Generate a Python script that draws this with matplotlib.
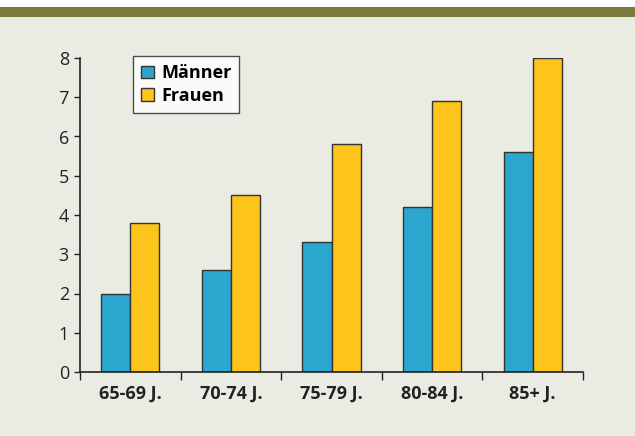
import numpy as np
import matplotlib
matplotlib.use("Agg")
import matplotlib.pyplot as plt
from matplotlib.patches import Rectangle

# Daten
categories = ["65-69 J.", "70-74 J.", "75-79 J.", "80-84 J.", "85+ J."]
maenner = [2.0, 2.6, 3.3, 4.2, 5.6]
frauen = [3.8, 4.5, 5.8, 6.9, 8.0]

BG = "#EAEBE3"
GREEN = "#7A7C3C"
BLUE = "#2BA6CE"
YELLOW = "#FDC41C"
EDGE = "#333333"

plt.rcParams["font.family"] = ["Open Sans", "DejaVu Sans"]

fig = plt.figure(figsize=(6.35, 4.36), dpi=100)
fig.patch.set_facecolor(BG)

# weisser Rand oben und gruener Balken
fig.patches.append(Rectangle((0, 1 - 7 / 436), 1, 7 / 436, transform=fig.transFigure,
                             facecolor="white", edgecolor="none", zorder=0))
fig.patches.append(Rectangle((0, 1 - 17 / 436), 1, 10 / 436, transform=fig.transFigure,
                             facecolor=GREEN, edgecolor="none", zorder=0))

ax = fig.add_axes([80 / 635, 1 - 372 / 436, (583 - 80) / 635, (372 - 58) / 436])
ax.set_facecolor(BG)

x = np.arange(len(categories))
w = 0.29
ax.bar(x - w / 2, maenner, w, color=BLUE, edgecolor=EDGE, linewidth=1.0, label="Männer")
ax.bar(x + w / 2, frauen, w, color=YELLOW, edgecolor=EDGE, linewidth=1.0, label="Frauen")

ax.set_xlim(-0.5, len(categories) - 0.5)
ax.set_ylim(0, 8)
ax.set_yticks(range(0, 9))
ax.tick_params(axis="y", length=4, width=1, labelsize=13, colors="#222222", pad=4)

ax.set_xticks(x)
ax.set_xticklabels(categories, fontsize=13, fontweight="bold", color="#222222")
ax.tick_params(axis="x", length=0, pad=9)
ax.set_xticks(np.arange(-0.5, len(categories)), minor=True)
ax.tick_params(axis="x", which="minor", length=6, width=1, color="#222222")

for s in ["top", "right"]:
    ax.spines[s].set_visible(False)
for s in ["left", "bottom"]:
    ax.spines[s].set_color("#222222")
    ax.spines[s].set_linewidth(1.2)

leg = ax.legend(loc="upper left", bbox_to_anchor=(53 / 503, 1.006), prop={"weight": "bold", "size": 13},
                frameon=True, fancybox=False, edgecolor="#222222", facecolor="white",
                handlelength=0.7, handleheight=0.7, handletextpad=0.4, borderpad=0.45,
                labelspacing=0.25, borderaxespad=0)
leg.get_frame().set_linewidth(1.0)

fig.savefig("out.png", dpi=100, facecolor=BG)
